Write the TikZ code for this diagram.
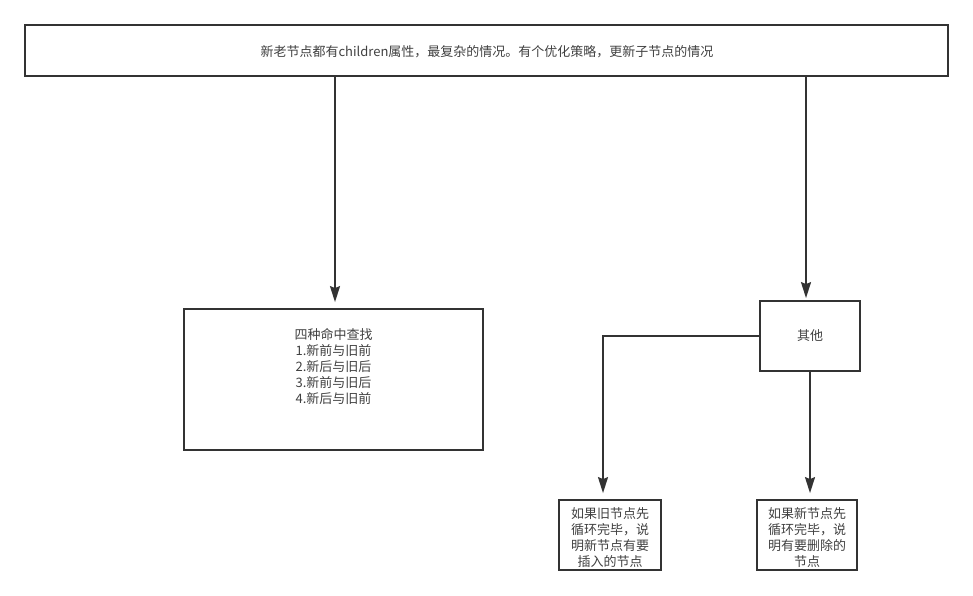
\documentclass[tikz,border=0pt]{standalone}
\usepackage{fontspec}
\setmainfont{Noto Sans CJK SC}
\usetikzlibrary{arrows.meta}
\definecolor{linegray}{HTML}{333333}
\definecolor{textgray}{HTML}{404040}

\begin{document}
\begin{tikzpicture}[x=1pt,y=-1pt,
  box/.style={draw=linegray, line width=1.8pt, rectangle, inner sep=0pt},
  txt/.style={text=textgray, font=\fontsize{13}{16}\selectfont, align=center, inner sep=0pt},
  arrow/.style={draw=linegray, line width=1.8pt, -{Stealth[length=16pt,width=10pt,inset=2pt]}}]
\useasboundingbox (0,0) rectangle (973,596);
% boxes
\node (newold) [box, txt, minimum width=923pt, minimum height=51pt] at (486.5,50.5) {};
\node (newoldtext) [txt] at (487,52)
  {新老节点都有children属性，最复杂的情况。有个优化策略，更新子节点的情况};
\node (find) [box, minimum width=299pt, minimum height=141pt] at (333.5,379.5) {};
\node (findtext) [txt] at (333.5,366)
  {四种命中查找\\1.新前与旧前\\2.新后与旧后\\3.新前与旧后\\4.新后与旧前};
\node (other) [box, txt, minimum width=100pt, minimum height=70pt] at (810,336) {其他};
\node (insert) [box, minimum width=102pt, minimum height=70pt] at (610,535) {};
\node (inserttext) [txt] at (610,538)
  {如果旧节点先\\循环完毕，说\\明新节点有要\\插入的节点};
\node (delete) [box, minimum width=100pt, minimum height=70pt] at (807,535) {};
\node (deletetext) [txt] at (807,538)
  {如果新节点先\\循环完毕，说\\明有要删除的\\节点};
% connectors
\coordinate (leftdown) at (335,76);
\coordinate (rightdown) at (806,76);
\coordinate (turn) at (603,336);
\draw [arrow, shorten >=6pt] (leftdown) -- (leftdown |- find.north);
\draw [arrow, shorten >=2pt] (rightdown) -- (rightdown |- other.north);
\draw [arrow, shorten >=6pt] (other.west) -- (turn) -- (turn |- insert.north);
\draw [arrow, shorten >=6pt] (other.south) -- (other.south |- delete.north);
\end{tikzpicture}
\end{document}
